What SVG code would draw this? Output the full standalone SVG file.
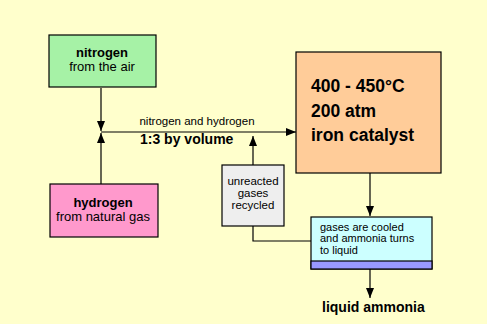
<svg xmlns="http://www.w3.org/2000/svg" width="487" height="324" viewBox="0 0 487 324">
<defs>
<marker id="ah" viewBox="0 0 10 8" refX="10" refY="4" markerWidth="10" markerHeight="8" markerUnits="userSpaceOnUse" orient="auto">
<path d="M0,0 L10,4 L0,8 Z" fill="#000"/>
</marker>
</defs>
<style>
.box{stroke:#000;stroke-width:1.2}
.ln{stroke:#000;stroke-width:1.2;fill:none}
text{font-family:"Liberation Sans",Arial,sans-serif;fill:#000}
.b{font-weight:bold}
</style>
<rect width="487" height="324" fill="#FFFFCC"/>
<g id="connectors">
<line class="ln" x1="101" y1="88" x2="101" y2="131" marker-end="url(#ah)"/>
<line class="ln" x1="101" y1="184" x2="101" y2="133" marker-end="url(#ah)"/>
<line class="ln" x1="101" y1="132" x2="296" y2="132" marker-end="url(#ah)"/>
<line class="ln" x1="253" y1="165" x2="253" y2="136" marker-end="url(#ah)"/>
<polyline class="ln" points="253,226 253,241 311,241"/>
<line class="ln" x1="370" y1="173" x2="370" y2="216" marker-end="url(#ah)"/>
<line class="ln" x1="370" y1="269" x2="370" y2="298" marker-end="url(#ah)"/>
<text x="197" y="125" font-size="11.5" text-anchor="middle">nitrogen and hydrogen</text>
<text x="140" y="144" font-size="14" class="b">1:3 by volume</text>
</g>
<g id="nitrogen">
<rect class="box" x="49" y="35" width="107" height="52" fill="#A6F2A6"/>
<text x="102" y="57" font-size="13" class="b" text-anchor="middle">nitrogen</text>
<text x="102" y="71" font-size="13" text-anchor="middle">from the air</text>
</g>
<g id="hydrogen">
<rect class="box" x="50" y="184" width="108" height="53" fill="#FF99CC"/>
<text x="103" y="207" font-size="13" class="b" text-anchor="middle">hydrogen</text>
<text x="103" y="221" font-size="13" text-anchor="middle">from natural gas</text>
</g>
<g id="reactor">
<rect class="box" x="296" y="52" width="145" height="121" fill="#FFCC99"/>
<text x="311" y="92" font-size="17.5" class="b">400 - 450°C</text>
<text x="311" y="117" font-size="17.5" class="b">200 atm</text>
<text x="311" y="141" font-size="17.5" class="b">iron catalyst</text>
</g>
<g id="recycle">
<rect class="box" x="222" y="165" width="62" height="61" fill="#EEEEEE"/>
<text x="253" y="185" font-size="11.5" text-anchor="middle">unreacted</text>
<text x="253" y="197" font-size="11.5" text-anchor="middle">gases</text>
<text x="253" y="209" font-size="11.5" text-anchor="middle">recycled</text>
</g>
<g id="condenser">
<rect class="box" x="311" y="217" width="121" height="52" fill="#CCFFFF"/>
<rect class="box" x="311" y="261" width="121" height="8" fill="#9999FF"/>
<text x="320" y="231" font-size="11">gases are cooled</text>
<text x="320" y="242" font-size="11">and ammonia turns</text>
<text x="320" y="254" font-size="11">to liquid</text>
</g>
<g id="product">
<text x="322" y="312" font-size="14" class="b">liquid ammonia</text>
</g>
</svg>
